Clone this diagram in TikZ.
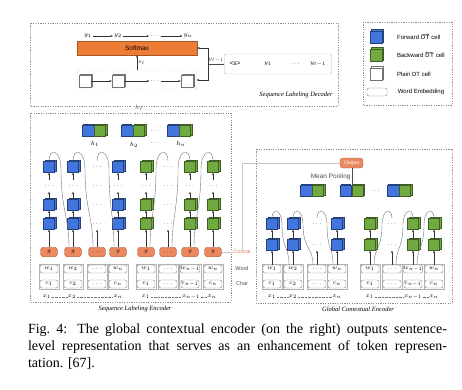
\documentclass[tikz,border=0pt]{standalone}
\usepackage{fontspec}
\setmainfont{Liberation Sans}
\newfontfamily\capfont{Liberation Serif}
\usepackage{tikz}
\usetikzlibrary{arrows.meta, positioning, fit, calc, shadows}
\definecolor{fwdblue}{RGB}{66,118,222}
\definecolor{bwdgreen}{RGB}{114,170,66}
\definecolor{gatefill}{RGB}{236,136,96}
\definecolor{softfill}{RGB}{236,124,54}
\definecolor{concatc}{RGB}{222,132,100}
\tikzset{
  celda/.style={rectangle, inner sep=0pt, minimum size=11pt, thin,
    copy shadow={shadow xshift=1.2pt, shadow yshift=1.2pt}},
  fcell/.style={celda, fill=fwdblue, draw=fwdblue!55!black},
  bcell/.style={celda, fill=bwdgreen, draw=bwdgreen!55!black},
  pcell/.style={celda, fill=white, draw=black!55},
  fhalf/.style={fcell, minimum width=11.5pt},
  bhalf/.style={bcell, minimum width=11.5pt},
  puntos/.style={inner sep=0pt, minimum size=11pt, font=\fontsize{6}{6}\selectfont},
  gate/.style={rectangle, rounded corners=3pt, fill=gatefill, draw=gatefill!70!black,
    thin, minimum width=17pt, minimum height=9.5pt, inner sep=0pt,
    font=\fontsize{6}{6}\selectfont},
  softbar/.style={rectangle, fill=softfill, draw=softfill!70!black, thin,
    minimum width=120pt, minimum height=14pt, inner sep=0pt,
    font=\fontsize{6.5}{7}\selectfont},
  capa/.style={rectangle, rounded corners=1.5pt, draw=black!35, densely dotted,
    minimum width=119pt, minimum height=20pt},
  prevbox/.style={rectangle, rounded corners=1.5pt, draw=black!25, fill=white,
    minimum width=107pt, minimum height=20pt},
  emb/.style={rectangle, rounded corners=2pt, fill=white, draw=black!50, thin,
    minimum width=18pt, minimum height=8pt, inner sep=0pt,
    font=\fontsize{6.5}{6.5}\selectfont},
  grupo/.style={rectangle, draw=black!30, very thin, inner sep=1pt},
  etq/.style={inner sep=1pt, font=\fontsize{6.5}{7}\selectfont},
  leyenda/.style={inner sep=0.5pt, font=\fontsize{6}{6}\selectfont},
  fila/.style={inner sep=0pt, font=\fontsize{5.5}{6}\selectfont, text=black!70},
  region/.style={draw=black!45, dash pattern=on 1.2pt off 1.2pt, thin},
  rotulo/.style={inner sep=0pt, font=\capfont\itshape\fontsize{6.5}{7}\selectfont},
  flecha/.style={-{Stealth[length=2.5pt, width=2pt]}, thin, black!80},
  lazo/.style={black!55, thin},
  doble/.style={double, double distance=1.3pt, thin, black!70},
  tenue/.style={black!22, thin},
  enlace/.style={black!55, densely dotted, thin}
}
\begin{document}
\begin{tikzpicture}[x=1pt, y=-1pt]
\useasboundingbox (0,0) rectangle (462,389);

% dashed regions
\draw[region] (30,23) rectangle (338,106);
\draw[region] (363,22) rectangle (452,105);
\draw[region] (30,113) rectangle (231,302);
\draw[region] (256,149) rectangle (452,303);
\node[rotulo] (tdec) at (296,95) {Sequence Labeling Decoder};
\node[rotulo] (tenc) at (135,309) {Sequence Labeling Encoder};
\node[rotulo] (tglo) at (358,309) {Global Contextual Encoder};

% decoder
\node[etq] (y1) at (88,36) {$y_1$};
\node[etq] (y2) at (118,36) {$y_2$};
\node[etq] (ydots) at (155,36) {$\cdots$};
\node[etq] (yn) at (188,36) {$y_n$};
\draw[flecha] (y1) -- (y2);
\draw[flecha] (y2) -- (ydots);
\draw[flecha] (ydots) -- (yn);
\node[softbar] (softmax) at (137,48) {Softmax};
\node[capa] (dechid) at (137,80) {};
\node[pcell, minimum size=12pt] (d1) at (85,81) {};
\node[pcell, minimum size=12pt] (d2) at (118,81) {};
\node[puntos] (ddots) at (155,81) {$\cdots$};
\node[pcell, minimum size=12pt] (d3) at (187,81) {};
\draw[flecha] (d1) -- (d2);
\draw[flecha] (d2) -- (ddots);
\draw[flecha] (ddots) -- (d3);
\draw[flecha] (dechid) -- node[etq, right] {$s_t$} (softmax);

% previous labels fed back
\node[prevbox] (prev) at (278,64) {};
\node[etq] (p0) at (235,64) {\textless s\textgreater};
\node[etq] (p1) at (268,64) {$y_1$};
\node[etq] (p2) at (295,64) {$\cdots$};
\node[etq] (p3) at (318,64) {$y_{t-1}$};
\coordinate (fb) at (208,64);
\draw[lazo, black!70] (prev) -- node[etq, above] {$y_{t-1}$} (fb);
\draw[flecha] (fb) |- (softmax);
\draw[flecha] (fb) |- (dechid);

% legend
\node[fcell, minimum size=12.5pt] (lgf) at (376,37) {};
\node[leyenda, right=14pt of lgf] (lgft) {Forward $\overrightarrow{\mathsf{DT}}$ cell};
\node[bcell, minimum size=12.5pt] (lgb) at (376,55) {};
\node[leyenda, right=14pt of lgb] (lgbt) {Backward $\overleftarrow{\mathsf{DT}}$ cell};
\node[pcell, minimum size=12.5pt] (lgp) at (376,74) {};
\node[leyenda, right=14pt of lgp] (lgpt) {Plain DT cell};
\node[emb, minimum width=20pt] (lgw) at (377,92) {};
\node[leyenda, right=10pt of lgw] (lgwt) {Word Embedding};

% left encoder: concatenated states
\node[fhalf] (h1a) at (88,131) {};
\node[bhalf, right=0pt of h1a] (h1b) {};
\node[fhalf] (h2a) at (127,131) {};
\node[bhalf, right=0pt of h2a] (h2b) {};
\node[puntos] (hdots) at (155,131) {$\cdots$};
\node[fhalf] (h3a) at (173,131) {};
\node[bhalf, right=0pt of h3a] (h3b) {};
\node[etq] (lh1) at (95,144) {$h_1$};
\node[etq] (lh2) at (134,145) {$h_2$};
\node[puntos] (lhd) at (155,143) {$\cdots$};
\node[etq] (lh3) at (181,144) {$h_n$};
\draw[doble] (h2a.north east) -- node[etq, right=1pt] {$h_t$} (h2a.north east |- dechid.south);

% left encoder: columns
\foreach \x/\kind/\i in {49/fcell/1, 73/fcell/2, 118/fcell/4, 146/bcell/5, 190/bcell/7, 213/bcell/8}{
  \node[\kind] (L\i-1) at (\x,167) {};
  \node[puntos] (L\i-2) at (\x,186) {$\cdots$};
  \node[\kind] (L\i-3) at (\x,205) {};
  \node[\kind] (L\i-4) at (\x,224) {};
  \draw[flecha] (L\i-4) -- (L\i-3);
  \draw[flecha] (L\i-3) -- (L\i-2);
  \draw[flecha] (L\i-2) -- (L\i-1);
}
\foreach \x/\i in {97/3, 168/6}{
  \node[puntos] (L\i-1) at (\x,167) {$\cdots$};
  \node[puntos] (L\i-2) at (\x,186) {$\cdots$};
  \node[puntos] (L\i-3) at (\x,205) {$\cdots$};
  \node[puntos] (L\i-4) at (\x,224) {$\cdots$};
}
\foreach \x/\i/\gl/\wrd/\chr in {49/1/g/w_1/c_1, 73/2/g/w_2/c_2, 97/3/\cdots/\cdots/\cdots,
    118/4/g/w_n/c_n, 146/5/g/w_1/c_1, 168/6/\cdots/\cdots/\cdots,
    190/7/g/{w_{n-1}}/{c_{n-1}}, 213/8/g/w_n/c_n}{
  \node[gate] (G\i) at (\x,252) {$\gl$};
  \node[emb] (W\i) at (\x,269) {$\wrd$};
  \node[emb] (C\i) at (\x,284) {$\chr$};
  \node[grupo, fit=(W\i)(C\i)] (P\i) {};
  \draw[flecha] (G\i) -- (L\i-4);
}
\foreach \a/\b in {1/2, 2/3, 3/4}
  \draw[lazo] (L\a-1.north) .. controls +(0,-14) and +(0,-20) .. ($(L\a-1.north)+(12,8)$)
    .. controls +(0,40) and +(0,-30) .. ($(G\b.north)+(-4,0)$);
\foreach \a/\b in {8/7, 7/6, 6/5}
  \draw[lazo] (L\a-1.north) .. controls +(0,-14) and +(0,-20) .. ($(L\a-1.north)+(-12,8)$)
    .. controls +(0,40) and +(0,-30) .. ($(G\b.north)+(4,0)$);
\foreach \x/\i/\lab in {47/1/x_1, 72/2/x_2, 118/3/x_n, 146/4/x_1, 191/5/{x_{n-1}}, 212/6/x_n}
  \node[etq, inner sep=0.5pt] (X\i) at (\x,297) {$\lab$};
\draw[enlace] (X1) -- (X2);
\draw[enlace] (X2) -- (X3);
\draw[enlace] (X4) -- (X5);
\draw[enlace] (X5) -- (X6);

% row labels
\node[fila, text=concatc] (lcat) at (242,252) {Concat};
\node[fila] (lword) at (242,269) {Word};
\node[fila] (lchar) at (242,284) {Char};

% global contextual encoder
\node[gate, minimum width=23pt, minimum height=10pt, text=white,
  font=\fontsize{5}{5}\selectfont] (out) at (351.5,163) {Output};
\draw[tenue] (G8) -- (lcat);
\draw[tenue] (out) -| (lcat);
\node[fhalf] (v1a) at (306,191) {};
\node[bhalf, right=0pt of v1a] (v1b) {};
\node[fhalf] (v2a) at (345.75,191) {};
\node[bhalf, right=0pt of v2a] (v2b) {};
\node[puntos] (vdots) at (375,191) {$\cdots$};
\node[fhalf] (v3a) at (393,191) {};
\node[bhalf, right=0pt of v3a] (v3b) {};
\draw[doble] (v2a.north east) -- node[etq, left] {Mean Pooling} (v2a.north east |- out.south);

\foreach \x/\kind/\i in {272/fcell/1, 293/fcell/2, 337/fcell/4, 370/bcell/5, 413/bcell/7, 434/bcell/8}{
  \node[\kind] (R\i-1) at (\x,224) {};
  \node[\kind] (R\i-2) at (\x,245) {};
  \draw[flecha] (R\i-2) -- (R\i-1);
}
\foreach \x/\i in {317/3, 392/6}{
  \node[puntos] (R\i-1) at (\x,224) {$\cdots$};
  \node[puntos] (R\i-2) at (\x,245) {$\cdots$};
}
\foreach \x/\i/\wrd/\chr in {272/1/w_1/c_1, 293/2/w_2/c_2, 317/3/\cdots/\cdots, 337/4/w_n/c_n,
    370/5/w_1/c_1, 392/6/\cdots/\cdots, 413/7/{w_{n-1}}/{c_{n-1}}, 434/8/w_n/c_n}{
  \node[emb] (RW\i) at (\x,269) {$\wrd$};
  \node[emb] (RC\i) at (\x,284) {$\chr$};
  \node[grupo, fit=(RW\i)(RC\i)] (RP\i) {};
  \draw[flecha] (RW\i) -- (R\i-2);
}
\foreach \a/\b in {1/2, 2/3, 3/4}
  \draw[lazo] (R\a-1.north) .. controls +(0,-11) and +(0,-15) .. ($(R\a-1.north)+(10,6)$)
    .. controls +(0,25) and +(0,-18) .. ($(RW\b.north)+(-4,0)$);
\foreach \a/\b in {8/7, 7/6, 6/5}
  \draw[lazo] (R\a-1.north) .. controls +(0,-11) and +(0,-15) .. ($(R\a-1.north)+(-10,6)$)
    .. controls +(0,25) and +(0,-18) .. ($(RW\b.north)+(4,0)$);
\foreach \x/\i/\lab in {272/1/x_1, 293/2/x_2, 337/3/x_n, 370/4/x_1, 413/5/{x_{n-1}}, 434/6/x_n}
  \node[etq, inner sep=0.5pt] (RX\i) at (\x,297) {$\lab$};
\draw[enlace] (RX1) -- (RX2);
\draw[enlace] (RX2) -- (RX3);
\draw[enlace] (RX4) -- (RX5);
\draw[enlace] (RX5) -- (RX6);

% caption
\node[text width=419pt, align=justify, inner sep=0pt,
  font=\capfont\fontsize{14}{17}\selectfont] (cap) at (237.5,347)
  {Fig.~4: The global contextual encoder (on the right) outputs sentence-\linebreak
   level representation that serves as an enhancement of token represen-\linebreak
   tation. [67].};
\end{tikzpicture}
\end{document}
